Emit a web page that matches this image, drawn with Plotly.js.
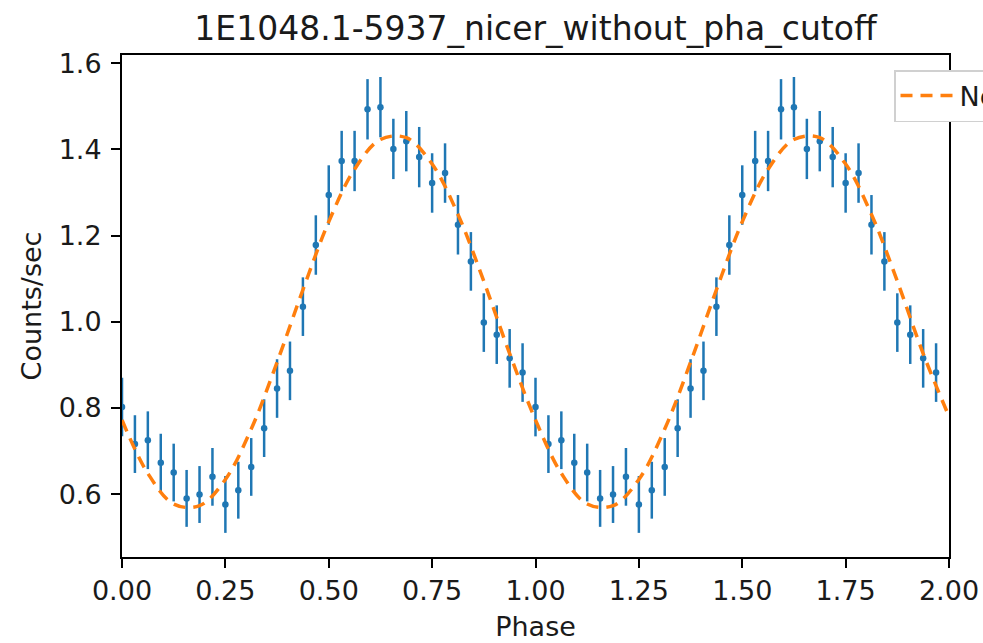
<!DOCTYPE html>
<html>
<head>
<meta charset="utf-8">
<script src="https://cdn.plot.ly/plotly-3.0.1.min.js"></script>
<style>html,body{margin:0;padding:0;background:#fff;}#chart{width:983px;height:643px;}</style>
</head>
<body>
<div id="chart"></div>
<script>
// Phase bin positions for one cycle (32 bins), plotted for two cycles
const binPhase = [0.0, 0.03125, 0.0625, 0.09375, 0.125, 0.15625, 0.1875, 0.21875,
  0.25, 0.28125, 0.3125, 0.34375, 0.375, 0.40625, 0.4375, 0.46875,
  0.5, 0.53125, 0.5625, 0.59375, 0.625, 0.65625, 0.6875, 0.71875,
  0.75, 0.78125, 0.8125, 0.84375, 0.875, 0.90625, 0.9375, 0.96875];
// Count rate per bin (counts/sec)
const rate = [0.802, 0.716, 0.725, 0.673, 0.650, 0.590, 0.599, 0.640,
  0.576, 0.609, 0.663, 0.753, 0.845, 0.886, 1.035, 1.178,
  1.294, 1.373, 1.373, 1.493, 1.498, 1.401, 1.419, 1.382,
  1.322, 1.345, 1.225, 1.140, 0.998, 0.970, 0.915, 0.882];
// 1-sigma errors
const rateErr = [0.068, 0.067, 0.067, 0.067, 0.067, 0.066, 0.066, 0.067,
  0.066, 0.066, 0.067, 0.067, 0.068, 0.068, 0.068, 0.069,
  0.069, 0.070, 0.070, 0.070, 0.070, 0.070, 0.070, 0.070,
  0.069, 0.069, 0.069, 0.068, 0.068, 0.068, 0.068, 0.068];
// Model curve
const modelPhase = [0, 0.0625, 0.125, 0.1875, 0.25, 0.3125, 0.375, 0.4375,
  0.5, 0.5625, 0.625, 0.6875, 0.75, 0.8125, 0.875, 0.9375,
  1.0, 1.0625, 1.125, 1.1875, 1.25, 1.3125, 1.375, 1.4375,
  1.5, 1.5625, 1.625, 1.6875, 1.75, 1.8125, 1.875, 1.9375, 2.0];
const modelRate = [0.772, 0.648, 0.577, 0.573, 0.634, 0.751, 0.906, 1.074,
  1.232, 1.354, 1.423, 1.427, 1.366, 1.249, 1.094, 0.926,
  0.772, 0.648, 0.577, 0.573, 0.634, 0.751, 0.906, 1.074,
  1.232, 1.354, 1.423, 1.427, 1.366, 1.249, 1.094, 0.926, 0.780];
const xTicks = [0, 0.25, 0.5, 0.75, 1.0, 1.25, 1.5, 1.75, 2.0];
const xTickText = ['0.00', '0.25', '0.50', '0.75', '1.00', '1.25', '1.50', '1.75', '2.00'];
const yTicks = [0.6, 0.8, 1.0, 1.2, 1.4, 1.6];
const yTickText = ['0.6', '0.8', '1.0', '1.2', '1.4', '1.6'];
const titleText = '1E1048.1-5937_nicer_without_pha_cutoff';
const legendName = 'New model';

const px = binPhase.concat(binPhase.map(p => p + 1));
const py = rate.concat(rate);
const pe = rateErr.concat(rateErr);

const FONT = 'DejaVu Sans, sans-serif';
const TXT = '#1a1a1a';
const data = [
  {
    x: px, y: py, type: 'scatter', mode: 'markers',
    marker: {color: '#1f77b4', size: 6.5},
    error_y: {type: 'data', array: pe, visible: true, color: '#1f77b4', thickness: 2.5, width: 0},
    showlegend: false, hoverinfo: 'skip'
  },
  {
    x: modelPhase, y: modelRate, type: 'scatter', mode: 'lines', name: legendName,
    line: {color: '#ff7f0e', width: 3.5, dash: '12px,8px', shape: 'spline'}
  }
];
const axisCommon = {
  showgrid: false, zeroline: false, showline: true, mirror: true,
  linecolor: '#000', linewidth: 2, ticks: 'outside', ticklen: 9, tickwidth: 2,
  tickcolor: '#000', tickfont: {family: FONT, size: 27, color: TXT}
};
const layout = {
  width: 983, height: 643,
  paper_bgcolor: '#fff', plot_bgcolor: '#fff',
  margin: {l: 122, r: 34, t: 55, b: 86, autoexpand: false},
  title: {text: titleText, font: {family: FONT, size: 33, color: TXT},
    x: 0.5, xref: 'paper', xanchor: 'center', y: 1 - 28 / 643, yref: 'container', yanchor: 'middle'},
  xaxis: Object.assign({}, axisCommon, {
    range: [0, 2], tickvals: xTicks, ticktext: xTickText,
    title: {text: 'Phase', font: {family: FONT, size: 27, color: TXT}, standoff: 12}
  }),
  yaxis: Object.assign({}, axisCommon, {
    range: [0.454, 1.619], tickvals: yTicks, ticktext: yTickText, ticklabelstandoff: 4,
    title: {text: 'Counts/sec', font: {family: FONT, size: 27, color: TXT}, standoff: 9}
  }),
  showlegend: true,
  legend: {x: 0.9335, xanchor: 'left', y: 0.970, yanchor: 'top',
    bgcolor: '#fff', bordercolor: '#d0d0d0', borderwidth: 1.5,
    font: {family: FONT, size: 27, color: TXT}, itemwidth: 54}
};
Plotly.newPlot('chart', data, layout, {staticPlot: true, displayModeBar: false});
</script>
</body>
</html>
